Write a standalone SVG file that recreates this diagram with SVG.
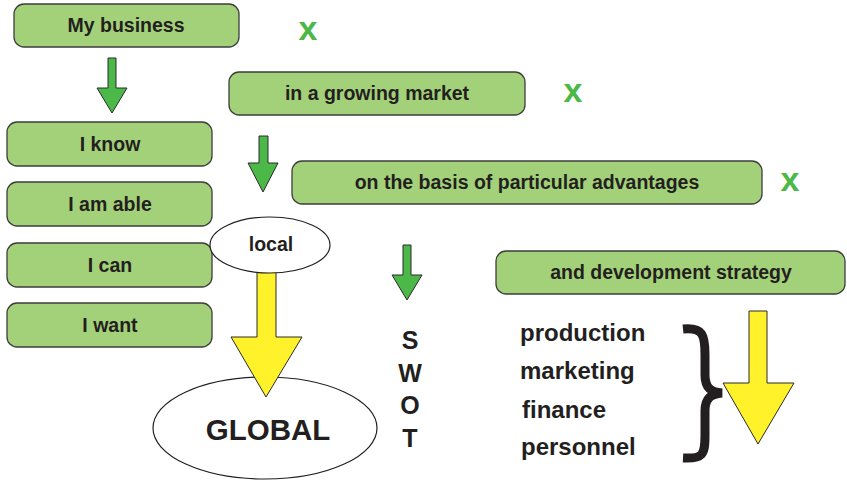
<svg xmlns="http://www.w3.org/2000/svg" width="847" height="481" viewBox="0 0 847 481">
<style>
.box{fill:#a3d179;stroke:#3d3d3d;stroke-width:1.3}
.bt{font-family:"Liberation Sans",Arial,sans-serif;font-weight:bold;font-size:19.5px;fill:#231f20;text-anchor:middle}
.x{font-family:"Liberation Sans",Arial,sans-serif;font-weight:bold;font-size:34px;fill:#4cb848;text-anchor:middle}
.ga{fill:#4cb848;stroke:#2b2b2b;stroke-width:1}
.ya{fill:#fff22a;stroke:#2b2b2b;stroke-width:1}
.ell{fill:#fff;stroke:#231f20;stroke-width:1.2}
.big{font-family:"Liberation Sans",Arial,sans-serif;font-weight:bold;fill:#231f20}
</style>
<rect width="847" height="481" fill="#fff"/>
<g id="n-mybusiness"><rect class="box" x="14" y="4" width="225" height="43" rx="10"/><text class="bt" x="126" y="32">My business</text></g>
<g id="n-market"><rect class="box" x="229" y="72" width="296" height="43" rx="10"/><text class="bt" x="377" y="100">in a growing market</text></g>
<g id="n-basis"><rect class="box" x="292" y="161" width="470" height="43" rx="10"/><text class="bt" x="527" y="189">on the basis of particular advantages</text></g>
<g id="n-strategy"><rect class="box" x="496" y="251" width="349" height="43" rx="10"/><text class="bt" x="671" y="279">and development strategy</text></g>
<g id="n-know"><rect class="box" x="7" y="122" width="205" height="44" rx="10"/><text class="bt" x="110" y="151">I know</text></g>
<g id="n-able"><rect class="box" x="7" y="182" width="205" height="44" rx="10"/><text class="bt" x="110" y="211">I am able</text></g>
<g id="n-can"><rect class="box" x="7" y="243" width="205" height="44" rx="10"/><text class="bt" x="110" y="272">I can</text></g>
<g id="n-want"><rect class="box" x="7" y="303" width="205" height="44" rx="10"/><text class="bt" x="110" y="332">I want</text></g>
<g id="x-marks"><text class="x" x="308" y="40">x</text><text class="x" x="573" y="102">x</text><text class="x" x="790" y="191">x</text></g>
<g id="n-global"><ellipse class="ell" cx="265" cy="428" rx="112" ry="51"/><text class="big" x="268" y="440" font-size="29.5" text-anchor="middle">GLOBAL</text></g>
<g id="connectors">
<polygon class="ga" points="108,58 116,58 116,88 127,88 112,113 97,88 108,88"/>
<polygon class="ga" points="259,136 268,136 268,163 278,163 263,192 248,163 259,163"/>
<polygon class="ga" points="403,245 411,245 411,275 422,275 407,300 392,275 403,275"/>
<polygon class="ya" points="257,270 276,270 276,337 302,337 266,397 231,337 257,337"/>
<polygon class="ya" points="749,311 767,311 767,383 794,383 758,444 723,383 749,383"/>
</g>
<g id="n-local"><ellipse class="ell" cx="270" cy="245" rx="60" ry="28"/><text class="bt" x="271" y="251">local</text></g>
<g id="swot" class="big" font-size="25" text-anchor="middle"><text x="410" y="349">S</text><text x="410" y="382">W</text><text x="410" y="414">O</text><text x="410" y="447">T</text></g>
<g id="functions" class="big" font-size="24"><text x="520" y="341">production</text><text x="520" y="379">marketing</text><text x="522" y="418">finance</text><text x="521" y="455">personnel</text></g>
<path id="brace" d="M683,329 C703,327 705,335 705,355 L705,375 C705,388 711,392 722,393 C711,394 705,398 705,411 L705,435 C705,455 703,459 683,458" fill="none" stroke="#231f20" stroke-width="9"/>
</svg>
